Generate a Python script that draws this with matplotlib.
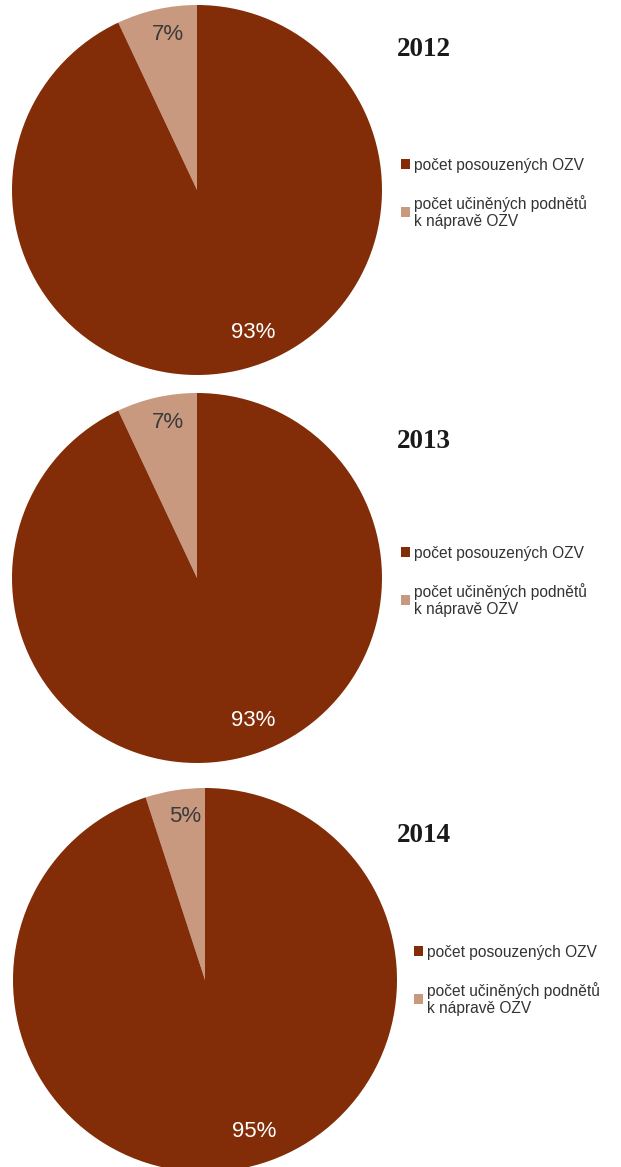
import numpy as np
import matplotlib
matplotlib.use('Agg')
import matplotlib.pyplot as plt

# podil posouzenych OZV a ucinenych podnetu (v %)
years = ['2012', '2013', '2014']
posouzene = [93, 93, 95]
podnety = [7, 7, 5]
labels = ['počet posouzených OZV', 'počet učiněných podnětů\nk nápravě OZV']

dark = '#822C08'
light = '#C8987F'

W, H = 621, 1167
fig = plt.figure(figsize=(W / 100, H / 100), dpi=100)
plt.rcParams['font.family'] = ['Liberation Sans', 'DejaVu Sans']

# pixel boxes of pies: left, top, size ; title and legend anchors
pie_boxes = [(12, 5, 370), (12, 393, 370), (13, 788, 384)]
title_pos = [(397, 49), (397, 441), (397, 836)]
legend_pos = [(393, 150), (393, 538), (406, 937)]


def px(x, y):
    return x / W, 1 - y / H


for i in range(len(years)):
    l, t, s = pie_boxes[i]
    ax = fig.add_axes([l / W, 1 - (t + s) / H, s / W, s / H])
    wedges, texts, autotexts = ax.pie(
        [podnety[i], posouzene[i]], colors=[light, dark], startangle=90,
        counterclock=True, autopct='%.0f%%', pctdistance=0.86,
        textprops={'fontsize': 16})
    ax.set_xlim(-1, 1)
    ax.set_ylim(-1, 1)
    ax.set_aspect('equal')
    ax.axis('off')
    autotexts[0].set_color('#3a3a3a')
    autotexts[1].set_color('white')
    # excel shifts the labels a bit
    x, y = autotexts[0].get_position()
    autotexts[0].set_position((x + 0.03, y))
    x, y = autotexts[1].get_position()
    a = np.arctan2(y, x) + np.deg2rad(9)
    r = 0.83
    autotexts[1].set_position((r * np.cos(a), r * np.sin(a)))

    tx, ty = px(*title_pos[i])
    fig.text(tx, ty, years[i], fontsize=19.5, fontweight='bold',
             family='Liberation Serif', color='#1a1a1a', va='center', ha='left')

    lx, ly = px(*legend_pos[i])
    fig.legend([wedges[1], wedges[0]], labels, loc='upper left',
               bbox_to_anchor=(lx, ly), bbox_transform=fig.transFigure,
               frameon=False, fontsize=11.2, handlelength=0.6, handleheight=0.6,
               handletextpad=0.25, labelspacing=1.4, borderpad=0,
               labelcolor='#333333')

fig.savefig('out.png', dpi=100)
